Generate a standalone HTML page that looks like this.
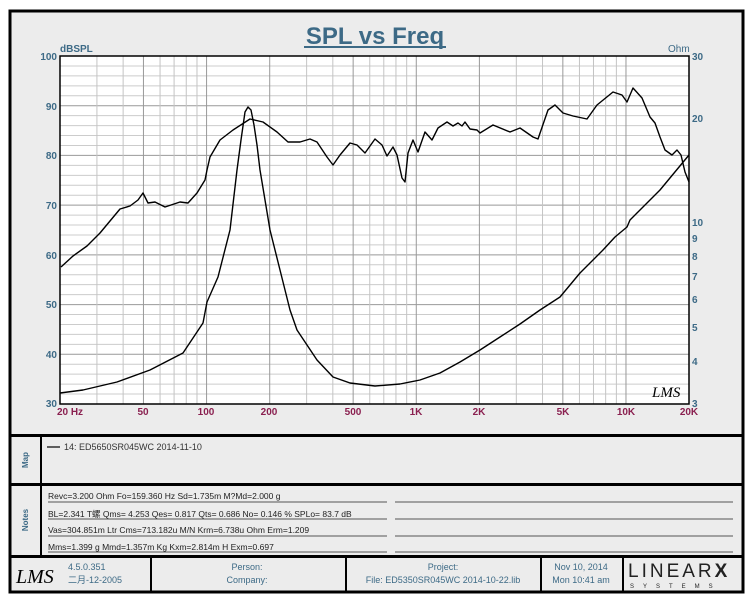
<!DOCTYPE html><html><head><style>
body{margin:0;background:#fff;width:750px;height:600px;overflow:hidden;font-family:"Liberation Sans","Noto Sans CJK SC",sans-serif}
</style></head><body>
<svg width="750" height="600" xmlns="http://www.w3.org/2000/svg" font-family="Liberation Sans, Noto Sans CJK SC, sans-serif">
<rect x="10" y="11" width="733" height="581" fill="#ececec" stroke="#000" stroke-width="3"/>
<text x="375" y="44" font-size="24" font-weight="bold" fill="#3d6a86" text-anchor="middle">SPL vs Freq</text>
<rect x="304" y="46" width="142" height="2" fill="#3d6a86"/>
<rect x="60" y="56" width="629" height="348" fill="#fff"/>
<g id="grid"></g>
<rect x="60" y="56" width="629" height="348" fill="none" stroke="#000" stroke-width="1.5"/>
<g font-size="10" font-weight="bold" fill="#3d6a86">
<text x="60" y="52">dBSPL</text><text x="668" y="52" font-weight="normal">Ohm</text>
<g text-anchor="end"><text x="57" y="60">100</text><text x="57" y="110">90</text><text x="57" y="159">80</text><text x="57" y="209">70</text><text x="57" y="259">60</text><text x="57" y="308">50</text><text x="57" y="358">40</text><text x="57" y="407">30</text></g>
<g><text x="692" y="60">30</text><text x="692" y="122">20</text><text x="692" y="226">10</text><text x="692" y="242">9</text><text x="692" y="260">8</text><text x="692" y="280">7</text><text x="692" y="303">6</text><text x="692" y="331">5</text><text x="692" y="365">4</text><text x="692" y="407">3</text></g>
</g>
<g font-size="10" font-weight="bold" fill="#8a2050" text-anchor="middle">
<text x="70" y="415">20  Hz</text><text x="143" y="415">50</text><text x="206" y="415">100</text><text x="269" y="415">200</text><text x="353" y="415">500</text><text x="416" y="415">1K</text><text x="479" y="415">2K</text><text x="563" y="415">5K</text><text x="626" y="415">10K</text><text x="689" y="415">20K</text>
</g>
<text x="652" y="397" font-size="15" font-style="italic" fill="#000" font-family="Liberation Serif, serif">LMS</text>
<g fill="none" stroke="#000" stroke-width="1.4" stroke-linejoin="round">
<polyline points="61,267 73,256 87,246 100,233 120,209 130,206 138,200 143,193 148,203 155,202 165,207 180,202 188,203 197,193 205,180 207,170 210,157 220,140 233,130 250,119 263,122 277,132 288,142 300,142 310,139 317,142 327,157 333,165 340,155 350,143 357,145 365,153 375,139 382,145 387,156 393,147 397,155 402,178 405,182 408,153 413,140 418,152 425,132 432,140 438,128 447,122 453,126 458,123 462,126 465,122 470,129 477,130 480,133 493,125 510,132 520,128 533,137 538,139 548,110 555,105 563,113 573,116 587,119 597,105 613,92 622,95 627,102 633,88 642,98 650,117 655,123 660,137 665,150 672,155 677,150 681,155 685,172 689,182"/>
<polyline points="60,393 83,390 117,382 150,370 183,353 193,338 203,323 207,302 218,277 230,230 237,170 241,140 245,112 248,107 251,110 254,125 257,145 260,170 270,230 280,270 290,310 297,330 317,360 333,377 350,383 375,386 400,384 420,380 440,373 460,362 480,350 500,337 520,324 540,310 560,297 580,273 603,250 615,237 627,227 630,220 640,210 660,190 689,155"/>
</g>
<rect x="10" y="434" width="733" height="3" fill="#000"/>
<rect x="10" y="483" width="733" height="3" fill="#000"/>
<rect x="10" y="555" width="733" height="3" fill="#000"/>
<rect x="40" y="436" width="2" height="120" fill="#000"/>
<g font-size="8" font-weight="bold" fill="#3d6a86">
<text transform="translate(28,460) rotate(-90)" text-anchor="middle">Map</text>
<text transform="translate(28,520) rotate(-90)" text-anchor="middle">Notes</text>
</g>
<line x1="47" y1="447" x2="60" y2="447" stroke="#000" stroke-width="1.2"/>
<text x="64" y="450" font-size="9" fill="#333">14: ED5650SR045WC      2014-11-10</text>
<g font-size="8.5" fill="#222">
<text x="48" y="499">Revc=3.200 Ohm  Fo=159.360 Hz  Sd=1.735m M?Md=2.000 g</text>
<text x="48" y="517">BL=2.341 T螺  Qms= 4.253  Qes= 0.817  Qts= 0.686  No= 0.146 %  SPLo= 83.7 dB</text>
<text x="48" y="533">Vas=304.851m Ltr  Cms=713.182u M/N  Krm=6.738u Ohm  Erm=1.209</text>
<text x="48" y="550">Mms=1.399 g  Mmd=1.357m Kg  Kxm=2.814m H  Exm=0.697</text>
</g>
<g stroke="#555" stroke-width="1">
<line x1="48" y1="502" x2="387" y2="502"/><line x1="395" y1="502" x2="733" y2="502"/>
<line x1="48" y1="519" x2="387" y2="519"/><line x1="395" y1="519" x2="733" y2="519"/>
<line x1="48" y1="536" x2="387" y2="536"/><line x1="395" y1="536" x2="733" y2="536"/>
<line x1="48" y1="552" x2="387" y2="552"/><line x1="395" y1="552" x2="733" y2="552"/>
</g>
<g fill="#000"><rect x="150" y="557" width="2" height="34"/><rect x="345" y="557" width="2" height="34"/><rect x="540" y="557" width="2" height="34"/><rect x="622" y="557" width="2" height="34"/></g>
<text x="16" y="583" font-size="20" font-style="italic" font-family="Liberation Serif, serif">LMS</text>
<g font-size="9" fill="#3d6a86">
<text x="68" y="570">4.5.0.351</text><text x="68" y="583">二月-12-2005</text>
<text x="247" y="570" text-anchor="middle">Person:</text><text x="247" y="583" text-anchor="middle">Company:</text>
<text x="443" y="570" text-anchor="middle">Project:</text><text x="443" y="583" text-anchor="middle">File: ED5350SR045WC   2014-10-22.lib</text>
<text x="581" y="570" text-anchor="middle">Nov 10, 2014</text><text x="581" y="583" text-anchor="middle">Mon 10:41 am</text>
</g>
<text x="628" y="577" font-size="19" letter-spacing="3" fill="#222">LINEAR<tspan font-weight="bold">X</tspan></text>
<text x="630" y="588" font-size="6" letter-spacing="9" fill="#222">SYSTEMS</text>
</svg>
<script>
var g=document.getElementById('grid'),ns='http://www.w3.org/2000/svg',s='';
for(var i=1;i<35;i++){var y=56+i*348/35;s+='<line x1="60" x2="689" y1="'+y+'" y2="'+y+'" stroke="'+(i%5==0?'#999':'#ccc')+'" stroke-width="1"/>';}
var ds=[10,100,1000,10000];for(var d of ds)for(var m=1;m<10;m++){var f=d*m;if(f<=20||f>=20000)continue;var x=60+209.7*Math.log10(f/20);var major=(m==1||m==2||m==5);s+='<line y1="56" y2="404" x1="'+x+'" x2="'+x+'" stroke="'+(major?'#999':'#c4c4c4')+'" stroke-width="1"/>';}
g.innerHTML=s;
</script>
</body></html>
